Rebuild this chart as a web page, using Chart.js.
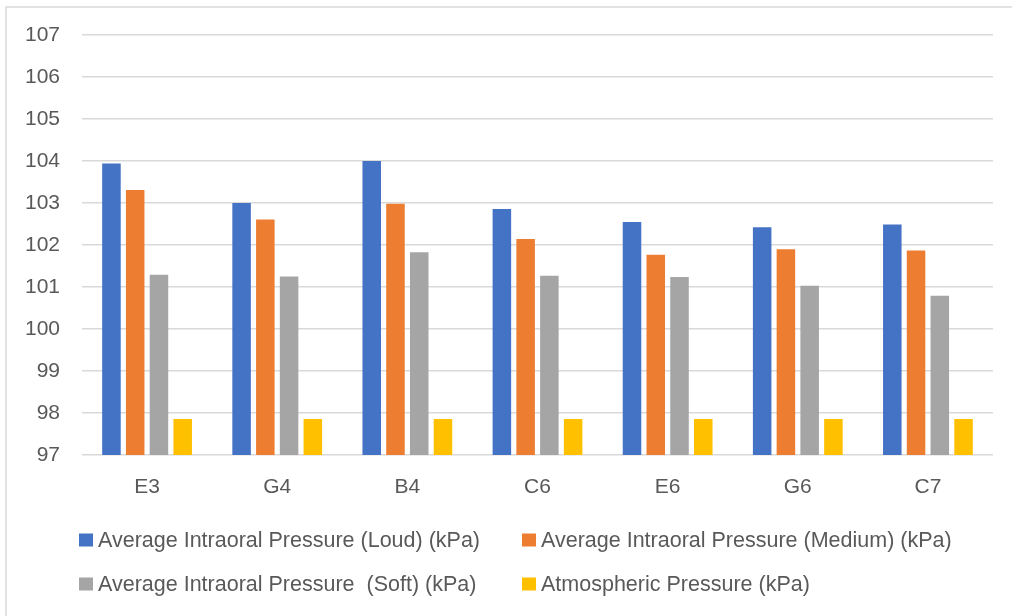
<!DOCTYPE html>
<html>
<head>
<meta charset="utf-8">
<script src="https://cdn.jsdelivr.net/npm/chart.js@4/dist/chart.umd.min.js"></script>
<style>
  html, body { margin: 0; padding: 0; background: #fff; }
  #wrap { position: relative; width: 1012px; height: 616px; }
  canvas { display: block; }
</style>
</head>
<body>
<div id="wrap"><canvas id="c" width="1012" height="616"></canvas></div>
<script>
// Notes sung, and the mean intraoral pressure for each loudness (kPa)
const notes = ['E3', 'G4', 'B4', 'C6', 'E6', 'G6', 'C7'];
const loud = [103.94, 103.00, 104.00, 102.86, 102.55, 102.42, 102.49];
const medium = [103.31, 102.61, 102.98, 102.14, 101.77, 101.90, 101.87];
const soft = [101.29, 101.25, 101.83, 101.27, 101.24, 101.03, 100.79];
const atmospheric = [97.86, 97.86, 97.86, 97.86, 97.86, 97.86, 97.86];
const yTicks = [97, 98, 99, 100, 101, 102, 103, 104, 105, 106, 107];

const seriesNames = [
  'Average Intraoral Pressure (Loud) (kPa)',
  'Average Intraoral Pressure (Medium) (kPa)',
  'Average Intraoral Pressure  (Soft) (kPa)',
  'Atmospheric Pressure (kPa)'
];
const seriesColors = ['#4472C4', '#ED7D31', '#A5A5A5', '#FFC000'];

const FONT = "'Liberation Sans', Arial, sans-serif";
const FONT_SIZE = 21;
const LEGEND_FONT_SIZE = 21.5;
const TEXT = '#595959';
const GRID = '#d9d9d9';

// Frame around the chart plus a two-column legend below the plot
const framePlugin = {
  id: 'frameAndLegend',
  beforeDraw(chart) {
    const ctx = chart.ctx;
    ctx.save();
    ctx.strokeStyle = GRID;
    ctx.lineWidth = 1.5;
    ctx.beginPath();
    ctx.moveTo(6, 616);
    ctx.lineTo(6, 7);
    ctx.lineTo(1012, 7);
    ctx.stroke();
    ctx.restore();
  },
  afterDraw(chart) {
    const ctx = chart.ctx;
    const cols = [79, 522];
    const rows = [540, 584];
    ctx.save();
    ctx.font = LEGEND_FONT_SIZE + 'px ' + FONT;
    ctx.textBaseline = 'middle';
    ctx.textAlign = 'left';
    chart.data.datasets.forEach((ds, i) => {
      const x = cols[i % 2];
      const y = rows[Math.floor(i / 2)];
      ctx.fillStyle = ds.backgroundColor;
      ctx.fillRect(x, y - 6.5, 14, 13);
      ctx.fillStyle = TEXT;
      ctx.fillText(ds.label, x + 19, y + 1);
    });
    ctx.restore();
  }
};

const datasets = [loud, medium, soft, atmospheric].map((vals, i) => ({
  label: seriesNames[i],
  data: vals,
  backgroundColor: seriesColors[i],
  borderWidth: 0,
  categoryPercentage: 0.73,
  barPercentage: 0.78
}));

new Chart(document.getElementById('c'), {
  type: 'bar',
  data: { labels: notes, datasets },
  plugins: [framePlugin],
  options: {
    responsive: false,
    animation: false,
    devicePixelRatio: 1,
    layout: { padding: { top: 35, right: 19, left: 0, bottom: 0 } },
    plugins: { legend: { display: false }, tooltip: { enabled: false } },
    scales: {
      x: {
        grid: { display: false, drawTicks: false },
        border: { display: false },
        ticks: { color: TEXT, font: { family: FONT, size: FONT_SIZE }, padding: 20 },
        afterFit(s) { s.height = 161; }
      },
      y: {
        min: yTicks[0],
        max: yTicks[yTicks.length - 1],
        afterBuildTicks(s) { s.ticks = yTicks.map(v => ({ value: v })); },
        grid: { color: GRID, lineWidth: 1.5, drawTicks: false },
        border: { display: false },
        ticks: { color: TEXT, font: { family: FONT, size: FONT_SIZE }, padding: 22 },
        afterFit(s) { s.width = 82; }
      }
    }
  }
});
</script>
</body>
</html>
